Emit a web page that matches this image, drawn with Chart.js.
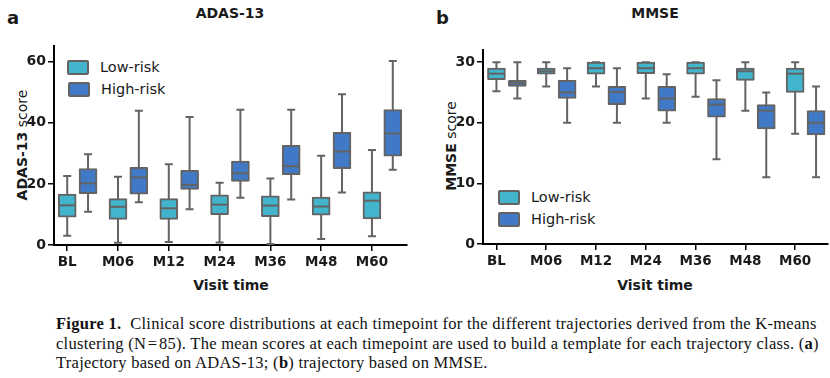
<!DOCTYPE html>
<html>
<head>
<meta charset="utf-8">
<script src="https://cdn.jsdelivr.net/npm/chart.js@4.4.1/dist/chart.umd.min.js"></script>
<style>
  body { margin: 0; background: #fff; }
  #fig { position: relative; width: 830px; height: 378px; overflow: hidden;
         font-family: "DejaVu Sans", sans-serif; color: #1a1a1a; }
  .abs { position: absolute; white-space: nowrap; line-height: 1; }
  canvas { position: absolute; }
  .letter { font-size: 18px; font-weight: bold; }
  .title { font-size: 14px; font-weight: bold; transform: translateX(-50%); }
  .ytitle { font-size: 14px; transform: translate(-50%, -50%) rotate(-90deg); }
  .xtitle { font-size: 14px; font-weight: bold; transform: translate(-50%, -50%); }
  .leg { font-size: 14.5px; display: flex; align-items: center; }
  .leg i { display: inline-block; width: 18px; height: 11px; border: 2px solid #636363;
           border-radius: 2px; margin-right: 11px; }
  .cap { position: absolute; left: 56px; top: 314px; white-space: nowrap;
         font-family: "Liberation Serif", "DejaVu Serif", serif; font-size: 16.5px;
         letter-spacing: 0.27px; line-height: 19.5px; color: #111; }
</style>
</head>
<body>
<div id="fig">
  <div class="abs letter" style="left:7px; top:9px;">a</div>
  <div class="abs title" style="left:230px; top:6px;">ADAS-13</div>
  <div class="abs letter" style="left:436px; top:9px;">b</div>
  <div class="abs title" style="left:655px; top:6px;">MMSE</div>

  <div class="abs ytitle" style="left:22px; top:145px;"><b>ADAS-13</b> score</div>
  <div class="abs ytitle" style="left:451px; top:146px;"><b>MMSE</b> score</div>
  <div class="abs xtitle" style="left:231px; top:285px;">Visit time</div>
  <div class="abs xtitle" style="left:655px; top:285px;">Visit time</div>

  <div class="abs leg" style="left:67px; top:60px;"><i style="background:#42b4cb"></i>Low-risk</div>
  <div class="abs leg" style="left:68px; top:82px;"><i style="background:#4079c6"></i>High-risk</div>
  <div class="abs leg" style="left:498px; top:190px;"><i style="background:#42b4cb"></i>Low-risk</div>
  <div class="abs leg" style="left:498px; top:212px;"><i style="background:#4079c6"></i>High-risk</div>

  <canvas id="chartA" width="415" height="264" style="left:0; top:36px;"></canvas>
  <canvas id="chartB" width="405" height="264" style="left:425px; top:36px;"></canvas>

  <div class="cap"><b>Figure 1.</b>&nbsp;&nbsp;Clinical score distributions at each timepoint for the different trajectories derived from the K-means<br>clustering (N&#8202;=&#8202;85). The mean scores at each timepoint are used to build a template for each trajectory class. (<b>a</b>)<br>Trajectory based on ADAS-13; (<b>b</b>) trajectory based on MMSE.</div>
</div>

<script>
const categories = ["BL", "M06", "M12", "M24", "M36", "M48", "M60"];

// ADAS-13, low-risk
const adasLowMin = [3.0, 0.7, 1.0, 0.8, 0.3, 2.0, 2.9];
const adasLowQ1 = [9.1, 8.4, 8.4, 9.9, 9.3, 9.8, 8.5];
const adasLowMed = [13.0, 12.5, 12.0, 13.2, 12.9, 12.6, 14.5];
const adasLowQ3 = [16.7, 15.2, 15.2, 16.4, 16.1, 15.7, 17.4];
const adasLowMax = [22.6, 22.3, 26.4, 20.4, 21.8, 29.2, 31.1];

// ADAS-13, high-risk
const adasHighMin = [10.9, 14.0, 11.7, 15.5, 14.9, 17.2, 24.6];
const adasHighQ1 = [16.8, 16.6, 18.2, 20.8, 23.0, 25.0, 29.1];
const adasHighMed = [20.2, 22.1, 19.7, 23.5, 25.8, 30.6, 36.5];
const adasHighQ3 = [25.0, 25.4, 24.4, 27.5, 32.6, 36.9, 44.3];
const adasHighMax = [29.7, 43.9, 41.9, 44.3, 44.3, 49.3, 60.2];

// MMSE, low-risk
const mmseLowMin = [25.2, 26.0, 26.0, 24.0, 24.3, 22.0, 18.2];
const mmseLowQ1 = [27.1, 28.0, 28.0, 28.1, 28.0, 27.0, 25.0];
const mmseLowMed = [28.1, 28.5, 29.0, 29.0, 29.0, 28.5, 28.1];
const mmseLowQ3 = [29.0, 29.0, 30.0, 30.0, 30.0, 29.0, 29.0];
const mmseLowMax = [30.0, 30.0, 30.0, 30.0, 30.0, 30.0, 30.0];

// MMSE, high-risk
const mmseHighMin = [24.0, 20.0, 20.0, 20.0, 14.0, 11.0, 11.0];
const mmseHighQ1 = [26.0, 24.0, 23.0, 21.9, 20.9, 19.0, 18.0];
const mmseHighMed = [26.5, 25.0, 25.1, 24.0, 23.0, 22.0, 20.0];
const mmseHighQ3 = [27.0, 27.0, 26.0, 26.0, 24.0, 23.0, 22.0];
const mmseHighMax = [30.0, 29.0, 29.0, 28.0, 27.0, 25.0, 26.0];

const adasTicks = [0, 20, 40, 60];
const mmseTicks = [0, 10, 20, 30];

const LOW = "#42b4cb";
const HIGH = "#4079c6";
const EDGE = "#636363";
const BOX_W = 18;

const yTickFont = { family: "DejaVu Sans", size: 14, weight: "bold" };
const xTickFont = { family: "DejaVu Sans", size: 13.5, weight: "bold" };

// whiskers behind the boxes, medians on top
const boxPlugin = {
  id: "boxParts",
  beforeDatasetsDraw(chart) {
    const { ctx, scales: { x, y } } = chart;
    ctx.save();
    ctx.strokeStyle = EDGE;
    ctx.lineWidth = 2;
    chart.data.datasets.forEach((ds) => {
      ds.stats.min.forEach((lo, i) => {
        const cx = x.getPixelForValue(i + ds.shift);
        const yl = y.getPixelForValue(lo);
        const yh = y.getPixelForValue(ds.stats.max[i]);
        ctx.beginPath();
        ctx.moveTo(cx, yl); ctx.lineTo(cx, yh);
        ctx.moveTo(cx - 4, yl); ctx.lineTo(cx + 4, yl);
        ctx.moveTo(cx - 4, yh); ctx.lineTo(cx + 4, yh);
        ctx.stroke();
      });
    });
    ctx.restore();
  },
  afterDatasetsDraw(chart) {
    const { ctx, scales: { x, y } } = chart;
    ctx.save();
    ctx.strokeStyle = EDGE;
    ctx.lineWidth = 2;
    chart.data.datasets.forEach((ds) => {
      ds.stats.med.forEach((m, i) => {
        const cx = x.getPixelForValue(i + ds.shift);
        const ym = y.getPixelForValue(m);
        ctx.beginPath();
        ctx.moveTo(cx - BOX_W / 2 + 1, ym); ctx.lineTo(cx + BOX_W / 2 - 1, ym);
        ctx.stroke();
      });
    });
    ctx.restore();
  },
};

function boxSet(label, color, shift, stats) {
  return {
    label,
    data: stats.q1.map((q, i) => ({ x: i + shift, y: [q, stats.q3[i]] })),
    backgroundColor: color,
    borderColor: EDGE,
    borderWidth: 2,
    borderSkipped: false,
    borderRadius: 1,
    barThickness: BOX_W,
    grouped: false,
    shift,
    stats,
  };
}

function boxChart(id, sets, p) {
  return new Chart(document.getElementById(id), {
    type: "bar",
    data: { datasets: sets },
    plugins: [boxPlugin],
    options: {
      responsive: false,
      animation: false,
      events: [],
      layout: { padding: { left: 0, right: p.right, top: p.top, bottom: 0 } },
      plugins: { legend: { display: false }, tooltip: { enabled: false } },
      scales: {
        x: {
          type: "linear",
          offset: false,
          min: p.xmin,
          max: p.xmax,
          afterBuildTicks: (s) => { s.ticks = categories.map((_, i) => ({ value: i })); },
          afterFit: (s) => { s.height = p.xh; },
          ticks: {
            callback: (v) => categories[v],
            font: xTickFont, color: "#1a1a1a", padding: 3,
            maxRotation: 0, autoSkip: false,
          },
          grid: { offset: false, drawOnChartArea: false, tickLength: 6, color: "#000", lineWidth: 1.5 },
          border: { display: true, color: "#000", width: 2 },
        },
        y: {
          min: 0,
          max: p.ymax,
          afterBuildTicks: (s) => { s.ticks = p.yticks.map((v) => ({ value: v })); },
          afterFit: (s) => { s.width = p.yw; },
          ticks: { font: yTickFont, color: "#1a1a1a", padding: 2 },
          grid: { drawOnChartArea: false, tickLength: 6, color: "#000", lineWidth: 1.5 },
          border: { display: true, color: "#000", width: 2 },
        },
      },
    },
  });
}

boxChart("chartA", [
  boxSet("Low-risk", LOW, 0, { min: adasLowMin, q1: adasLowQ1, med: adasLowMed, q3: adasLowQ3, max: adasLowMax }),
  boxSet("High-risk", HIGH, 0.41, { min: adasHighMin, q1: adasHighQ1, med: adasHighMed, q3: adasHighQ3, max: adasHighMax }),
], { xmin: -0.26, xmax: 6.69, ymax: 65, yticks: adasTicks, yw: 54, xh: 55, right: 8, top: 10 });

boxChart("chartB", [
  boxSet("Low-risk", LOW, 0, { min: mmseLowMin, q1: mmseLowQ1, med: mmseLowMed, q3: mmseLowQ3, max: mmseLowMax }),
  boxSet("High-risk", HIGH, 0.42, { min: mmseHighMin, q1: mmseHighQ1, med: mmseHighMed, q3: mmseHighQ3, max: mmseHighMax }),
], { xmin: -0.27, xmax: 6.66, ymax: 32, yticks: mmseTicks, yw: 58, xh: 56, right: 2, top: 14 });
</script>
</body>
</html>
